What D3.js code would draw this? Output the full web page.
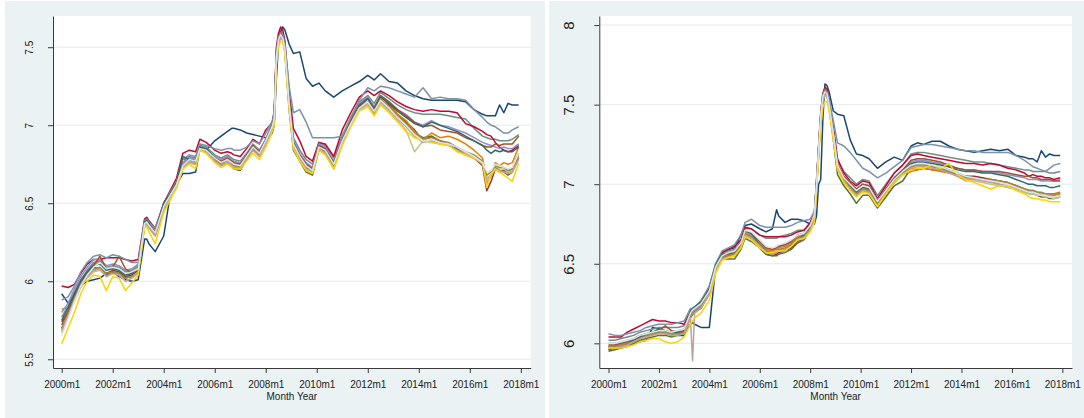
<!DOCTYPE html>
<html><head><meta charset="utf-8">
<script src="https://cdn.jsdelivr.net/npm/d3@7"></script>
<style>html,body{margin:0;padding:0;background:#fff;} svg{display:block;font-family:"Liberation Sans",Arial,sans-serif;}</style>
</head><body><svg id="c" width="1084" height="418"></svg>
<script>
// months since 2000m1
const months = [0,3,6,9,12,15,18,21,24,27,30,33,36,39,40,41,44,48,51,54,57,60,63,65,68,72,75,78,80,81,84,87,90,93,96,98,99,100,101,102,103,104,105,107,109,112,115,118,121,124,128,132,136,140,144,147,150,154,158,162,166,170,174,178,182,186,190,194,198,200,202,204,206,208,210,212,215];
const tickMonths = [0,24,48,72,96,120,144,168,192,216];
const tickLabels = ["2000m1","2002m1","2004m1","2006m1","2008m1","2010m1","2012m1","2014m1","2016m1","2018m1"];
const leftYTicks = [5.5,6,6.5,7,7.5];
const rightYTicks = [6,6.5,7,7.5,8];
const xTitle = "Month Year";
const seriesColors = ["#1a476f","#90353b","#55752f","#e37e00","#6e8e84","#c10534","#938dd2","#cac27e","#a0522d","#7b92a8","#2d6d66","#9c8847","#bfa19c","#ffd200","#d9e6eb"];

// ---- left panel series ----
const L_navy = [5.92,5.86,5.92,5.97,6.00,6.01,6.02,6.05,6.06,6.03,6.01,6.00,6.01, 6.27,6.27,6.24, 6.19,6.29,6.55,6.62,6.69,6.69,6.70,6.85,6.84,6.90,6.93,6.96,6.98,6.98,6.97,6.95,6.94,6.93,6.92, 6.93,6.95,7.00,7.30,7.52,7.60,7.63,7.61,7.52,7.46, 7.47,7.30,7.25,7.27,7.22,7.18,7.22,7.25,7.28,7.32,7.29,7.33,7.28,7.27,7.22,7.19,7.17,7.16,7.16,7.16,7.16,7.15,7.10,7.07, 7.06,7.06,7.06,7.13,7.08,7.14,7.13,7.13];
const L_maroon = [5.74,5.80,5.90,5.99,6.05,6.09,6.08,6.05,6.07,6.06,6.03,6.04,6.07, 6.37,6.38,6.35, 6.30,6.47,6.54,6.60,6.74,6.79,6.77,6.86,6.84,6.78,6.75,6.78,6.76,6.75,6.74,6.80,6.86,6.82,6.91, 6.97,7.00,7.08,7.48,7.56,7.60,7.58,7.50,7.14,6.86, 6.80,6.73,6.70,6.86,6.83,6.74,6.90,7.03,7.13,7.17,7.10,7.19,7.13,7.07,7.02,6.97,6.90,6.93,6.90,6.88,6.85,6.82,6.79,6.74, 6.58,6.64,6.72,6.70,6.71,6.70,6.72,6.82];
const L_forest = [5.70,5.78,5.88,5.97,6.03,6.07,6.08,6.04,6.06,6.05,6.02,6.03,6.06, 6.36,6.37,6.35, 6.30,6.50,6.56,6.64,6.79,6.76,6.75,6.85,6.83,6.77,6.74,6.76,6.73,6.72,6.71,6.78,6.85,6.81,6.88, 6.94,6.98,7.02,7.42,7.53,7.56,7.55,7.47,7.10,6.84, 6.77,6.70,6.68,6.84,6.82,6.73,6.88,7.00,7.11,7.15,7.07,7.16,7.12,7.06,7.02,6.95,6.92,6.93,6.89,6.88,6.85,6.81,6.79,6.75, 6.66,6.68,6.73,6.71,6.70,6.68,6.70,6.79];
const L_orange = [5.82,5.83,5.93,6.01,6.06,6.11,6.12,6.07,6.09,6.08,6.05,6.06,6.09, 6.38,6.39,6.37, 6.32,6.47,6.55,6.62,6.75,6.78,6.78,6.86,6.84,6.79,6.76,6.79,6.77,6.76,6.75,6.80,6.86,6.82,6.89, 6.96,6.99,7.05,7.46,7.55,7.58,7.57,7.50,7.16,6.89, 6.81,6.75,6.72,6.87,6.85,6.76,6.91,7.03,7.13,7.17,7.10,7.18,7.14,7.07,7.03,6.96,6.91,6.95,6.92,6.93,6.91,6.88,6.84,6.79, 6.63,6.68,6.76,6.74,6.76,6.75,6.76,6.86];
const L_teal = [5.77,5.84,5.93,6.01,6.07,6.12,6.13,6.09,6.10,6.09,6.06,6.07,6.10, 6.39,6.40,6.38, 6.33,6.49,6.57,6.63,6.76,6.80,6.79,6.87,6.86,6.81,6.79,6.81,6.79,6.78,6.77,6.82,6.88,6.84,6.91, 6.98,7.01,7.06,7.46,7.56,7.59,7.58,7.51,7.18,6.92, 6.84,6.78,6.75,6.89,6.87,6.79,6.93,7.05,7.15,7.19,7.14,7.21,7.17,7.13,7.10,7.08,7.07,7.07,7.07,7.06,7.05,7.04,6.98,6.93, 6.92,6.91,6.91,6.90,6.90,6.90,6.91,6.94];
const L_cranberry = [5.97,5.96,5.98,6.05,6.11,6.14,6.14,6.15,6.15,6.15,6.14,6.13,6.14, 6.40,6.41,6.39, 6.34,6.50,6.58,6.66,6.82,6.84,6.83,6.91,6.89,6.84,6.82,6.83,6.82,6.81,6.80,6.85,6.91,6.88,6.97, 7.00,7.02,7.09,7.50,7.59,7.63,7.61,7.54,7.22,6.98, 6.90,6.80,6.77,6.89,6.88,6.80,6.97,7.08,7.18,7.22,7.19,7.22,7.19,7.15,7.12,7.10,7.09,7.10,7.09,7.09,7.08,7.01,6.99,6.96, 6.94,6.93,6.89,6.86,6.84,6.83,6.84,6.87];
const L_lavender = [5.80,5.86,5.95,6.03,6.09,6.14,6.14,6.10,6.11,6.10,6.07,6.08,6.11, 6.38,6.39,6.37, 6.32,6.48,6.56,6.62,6.76,6.79,6.78,6.86,6.85,6.80,6.78,6.80,6.78,6.77,6.76,6.81,6.87,6.84,6.91, 6.97,7.00,7.06,7.46,7.56,7.59,7.58,7.51,7.17,6.90, 6.82,6.76,6.73,6.88,6.86,6.77,6.92,7.04,7.14,7.18,7.12,7.19,7.15,7.10,7.07,7.02,7.00,7.03,7.00,6.99,6.97,6.95,6.92,6.89, 6.88,6.87,6.86,6.85,6.86,6.85,6.85,6.88];
const L_khaki = [5.67,5.77,5.87,5.96,6.02,6.06,6.07,6.03,6.05,6.04,6.00,6.02,6.05, 6.36,6.36,6.34, 6.29,6.45,6.53,6.60,6.72,6.76,6.75,6.84,6.82,6.77,6.74,6.76,6.74,6.73,6.72,6.78,6.84,6.80,6.88, 6.94,6.98,7.03,7.42,7.53,7.56,7.55,7.48,7.12,6.86, 6.78,6.72,6.70,6.85,6.82,6.73,6.88,7.00,7.10,7.13,7.07,7.14,7.09,7.03,6.97,6.83,6.90,6.89,6.88,6.88,6.86,6.82,6.80,6.77, 6.66,6.68,6.74,6.72,6.72,6.70,6.71,6.80];
const L_sienna = [5.72,5.81,5.91,6.00,6.06,6.10,6.16,6.08,6.09,6.16,6.08,6.05,6.08, 6.37,6.38,6.36, 6.31,6.48,6.55,6.63,6.74,6.78,6.77,6.86,6.84,6.79,6.77,6.79,6.77,6.76,6.75,6.81,6.87,6.83,6.90, 6.96,6.99,7.05,7.45,7.56,7.59,7.58,7.50,7.16,6.89, 6.81,6.75,6.72,6.87,6.85,6.76,6.91,7.03,7.13,7.17,7.11,7.19,7.15,7.10,7.06,7.02,6.99,7.00,6.97,6.96,6.95,6.92,6.90,6.87, 6.86,6.86,6.88,6.87,6.88,6.88,6.88,6.93];
const L_emidblue = [5.88,5.90,5.97,6.06,6.12,6.16,6.17,6.15,6.17,6.16,6.14,6.12,6.12, 6.39,6.40,6.38, 6.34,6.49,6.57,6.64,6.78,6.81,6.80,6.88,6.87,6.85,6.84,6.85,6.85,6.84,6.84,6.86,6.90,6.88,6.95, 7.00,7.02,7.08,7.47,7.56,7.59,7.58,7.52,7.25,7.08, 7.10,7.02,6.92,6.92,6.92,6.92,6.93,7.05,7.16,7.24,7.22,7.25,7.24,7.22,7.20,7.18,7.24,7.17,7.18,7.17,7.17,7.16,7.10,7.05, 7.02,7.00,6.99,6.97,6.95,6.95,6.97,6.99];
const L_emerald = [5.75,5.83,5.92,6.00,6.06,6.10,6.11,6.07,6.08,6.07,6.04,6.05,6.08, 6.38,6.39,6.37, 6.31,6.50,6.56,6.63,6.80,6.78,6.77,6.86,6.85,6.79,6.76,6.78,6.76,6.75,6.74,6.80,6.86,6.82,6.90, 6.96,6.99,7.05,7.44,7.55,7.58,7.57,7.49,7.14,6.88, 6.79,6.73,6.70,6.86,6.84,6.75,6.90,7.02,7.12,7.17,7.10,7.18,7.14,7.09,7.05,7.01,6.99,7.02,7.00,6.98,6.96,6.93,6.90,6.87, 6.84,6.82,6.84,6.83,6.84,6.83,6.83,6.86];
const L_brown = [5.69,5.79,5.89,5.98,6.04,6.08,6.09,6.05,6.06,6.05,6.02,6.03,6.06, 6.37,6.37,6.35, 6.30,6.46,6.54,6.61,6.73,6.77,6.76,6.85,6.83,6.78,6.75,6.77,6.75,6.74,6.73,6.79,6.85,6.81,6.89, 6.95,6.98,7.04,7.43,7.54,7.57,7.56,7.49,7.13,6.87, 6.79,6.73,6.70,6.85,6.83,6.74,6.89,7.01,7.11,7.15,7.08,7.17,7.12,7.06,7.01,6.95,6.91,6.92,6.90,6.89,6.86,6.83,6.81,6.77, 6.68,6.70,6.74,6.73,6.73,6.71,6.72,6.80];
const L_erose = [5.68,5.78,5.88,5.97,6.03,6.07,6.08,6.03,6.05,6.04,6.00,6.02,6.06, 6.36,6.37,6.35, 6.29,6.46,6.54,6.60,6.73,6.77,6.75,6.85,6.83,6.77,6.74,6.77,6.74,6.73,6.72,6.78,6.84,6.80,6.88, 6.94,6.98,7.03,7.42,7.53,7.56,7.55,7.48,7.12,6.86, 6.78,6.72,6.70,6.85,6.82,6.72,6.88,7.00,7.10,7.14,7.07,7.15,7.10,7.04,6.99,6.93,6.89,6.90,6.88,6.87,6.84,6.81,6.79,6.75, 6.64,6.67,6.72,6.71,6.70,6.69,6.70,6.78];
const L_gold = [5.60,5.70,5.80,5.92,6.00,6.04,6.03,5.94,6.03,6.02,5.94,5.99,6.04, 6.34,6.35,6.32, 6.24,6.44,6.52,6.60,6.72,6.75,6.72,6.84,6.82,6.76,6.73,6.75,6.73,6.72,6.72,6.77,6.82,6.78,6.86, 6.92,6.96,7.00,7.38,7.50,7.54,7.53,7.46,7.10,6.85, 6.77,6.71,6.69,6.84,6.81,6.72,6.87,6.99,7.09,7.12,7.06,7.13,7.08,7.02,6.96,6.92,6.90,6.89,6.88,6.87,6.83,6.81,6.79,6.76, 6.60,6.69,6.72,6.70,6.68,6.66,6.64,6.76];
const L_bluish = [5.65,5.76,5.87,5.97,6.04,6.09,6.12,6.08,6.09,6.08,6.05,6.06,6.08, 6.37,6.38,6.36, 6.31,6.48,6.55,6.62,6.74,6.78,6.77,6.85,6.84,6.79,6.76,6.78,6.76,6.75,6.74,6.80,6.86,6.82,6.90, 6.96,6.99,7.04,7.44,7.55,7.58,7.56,7.49,7.14,6.88, 6.80,6.74,6.71,6.86,6.84,6.75,6.90,7.01,7.11,7.15,7.09,7.16,7.11,7.05,7.00,6.94,6.90,6.91,6.89,6.88,6.86,6.83,6.80,6.76, 6.70,6.71,6.75,6.74,6.73,6.72,6.73,6.82];

// ---- right panel series ----
const R_navy = [5.97,5.97,5.97,5.99,6.00,6.01,6.02,6.10,6.09,6.08,6.06,6.05,6.05, 6.12,6.13,6.12, 6.10,6.10,6.48,6.57,6.59,6.60,6.68,6.74,6.75,6.72,6.70,6.72,6.84,6.80,6.76,6.78,6.78,6.77,6.75, 6.75,6.80,7.00,7.03,7.40,7.63,7.62,7.58,7.46,7.44, 7.43,7.28,7.19,7.18,7.16,7.10,7.14,7.17,7.15,7.24,7.26,7.25,7.27,7.27,7.24,7.22,7.21,7.20,7.21,7.22,7.21,7.22,7.18,7.17, 7.16,7.16,7.14,7.21,7.17,7.19,7.18,7.18];
const R_maroon = [5.98,5.98,5.99,6.00,6.02,6.03,6.05,6.06,6.07,6.06,6.05,6.06,6.07, 6.17,6.19,6.20, 6.23,6.32,6.47,6.54,6.55,6.56,6.60,6.68,6.66,6.60,6.56,6.55,6.56,6.57,6.58,6.60,6.64,6.66,6.72, 6.79,6.98,7.20,7.42,7.55,7.59,7.58,7.51,7.33,7.12, 7.03,6.98,6.94,6.97,6.96,6.87,6.94,7.02,7.07,7.12,7.13,7.13,7.12,7.11,7.09,7.07,7.05,7.05,7.04,7.03,7.02,7.01,6.99,6.97, 6.96,6.96,6.95,6.94,6.94,6.93,6.93,6.94];
const R_forest = [5.95,5.96,5.97,5.98,6.00,6.02,6.03,6.04,6.05,6.05,6.04,6.05,6.06, 6.16,6.18,6.20, 6.22,6.31,6.46,6.53,6.53,6.53,6.59,6.66,6.64,6.60,6.56,6.55,6.55,6.56,6.57,6.59,6.63,6.65,6.71, 6.78,6.97,7.18,7.40,7.53,7.57,7.56,7.48,7.28,7.06, 6.99,6.94,6.88,6.93,6.93,6.85,6.92,6.99,7.02,7.10,7.09,7.10,7.09,7.09,7.08,7.06,7.05,7.04,7.03,7.02,7.00,6.98,6.97,6.95, 6.94,6.94,6.93,6.92,6.92,6.91,6.91,6.92];
const R_orange = [5.98,5.98,5.99,6.01,6.02,6.04,6.05,6.06,6.07,6.07,6.06,6.07,6.08, 6.18,6.20,6.21, 6.24,6.33,6.48,6.55,6.56,6.57,6.62,6.70,6.68,6.63,6.59,6.58,6.59,6.60,6.61,6.63,6.67,6.68,6.73, 6.80,7.00,7.22,7.42,7.55,7.59,7.58,7.50,7.30,7.10, 7.01,6.97,6.93,6.96,6.95,6.87,6.94,7.01,7.06,7.08,7.09,7.10,7.09,7.08,7.07,7.06,7.04,7.04,7.03,7.03,7.02,7.01,6.99,6.97, 6.96,6.95,6.94,6.94,6.93,6.93,6.93,6.94];
const R_teal = [6.02,6.02,6.03,6.04,6.05,6.07,6.08,6.09,6.10,6.10,6.10,6.10,6.11, 6.21,6.22,6.23, 6.26,6.35,6.50,6.57,6.58,6.59,6.64,6.72,6.72,6.68,6.66,6.66,6.66,6.67,6.68,6.69,6.71,6.71,6.75, 6.82,7.02,7.23,7.43,7.55,7.58,7.57,7.51,7.34,7.15, 7.08,7.04,7.00,7.03,7.02,6.93,7.00,7.07,7.12,7.19,7.20,7.20,7.19,7.18,7.17,7.16,7.15,7.14,7.14,7.13,7.12,7.11,7.10,7.09, 7.09,7.08,7.08,7.08,7.08,7.07,7.07,7.08];
const R_cranberry = [6.04,6.04,6.04,6.07,6.09,6.11,6.13,6.15,6.14,6.14,6.13,6.13,6.12, 6.20,6.21,6.22, 6.25,6.36,6.49,6.57,6.59,6.61,6.65,6.73,6.72,6.68,6.67,6.67,6.67,6.67,6.67,6.68,6.70,6.71,6.76, 6.82,7.01,7.24,7.45,7.57,7.61,7.60,7.53,7.36,7.16, 7.07,7.02,6.99,7.02,7.01,6.91,6.99,7.07,7.12,7.18,7.19,7.18,7.17,7.16,7.15,7.14,7.13,7.13,7.12,7.13,7.12,7.10,7.09,7.07, 7.05,7.06,7.05,7.05,7.04,7.04,7.03,7.04];
const R_lavender = [6.00,6.00,6.01,6.02,6.03,6.05,6.06,6.07,6.08,6.08,6.07,6.08,6.09, 6.19,6.20,6.21, 6.24,6.32,6.46,6.53,6.55,6.56,6.61,6.69,6.68,6.63,6.60,6.59,6.60,6.61,6.62,6.64,6.68,6.69,6.74, 6.81,7.01,7.22,7.42,7.54,7.58,7.57,7.50,7.32,7.12, 7.05,7.01,6.97,7.00,6.99,6.90,6.97,7.04,7.09,7.14,7.15,7.15,7.14,7.13,7.11,7.10,7.09,7.09,7.08,7.08,7.07,7.06,7.05,7.04, 7.03,7.03,7.03,7.02,7.02,7.02,7.02,7.03];
const R_khaki = [5.97,5.97,5.98,5.99,6.01,6.03,6.04,6.05,6.06,6.06,6.05,6.06,6.07, 6.17,6.19,6.20, 6.23,6.32,6.47,6.54,6.55,6.55,6.61,6.69,6.67,6.62,6.58,6.57,6.58,6.59,6.60,6.62,6.66,6.67,6.72, 6.79,6.99,7.21,7.41,7.53,7.57,7.56,7.49,7.31,7.11, 7.03,6.98,6.95,6.98,6.97,6.88,6.95,7.02,7.06,7.11,7.12,7.12,7.11,7.10,7.08,7.05,7.02,7.02,7.01,7.00,6.99,6.98,6.97,6.95, 6.94,6.94,6.93,6.93,6.92,6.92,6.91,6.92];
const R_sienna = [5.99,5.99,6.00,6.01,6.03,6.05,6.06,6.07,6.08,6.11,6.08,6.07,6.08, 6.19,6.21,6.22, 6.25,6.34,6.48,6.55,6.56,6.57,6.63,6.71,6.69,6.64,6.60,6.59,6.60,6.61,6.62,6.64,6.68,6.69,6.74, 6.81,7.01,7.23,7.43,7.56,7.60,7.59,7.52,7.33,7.13, 7.05,7.01,6.97,7.00,6.99,6.89,6.97,7.04,7.09,7.15,7.16,7.16,7.15,7.14,7.12,7.10,7.09,7.09,7.08,7.08,7.08,7.07,7.06,7.05, 7.05,7.04,7.04,7.03,7.03,7.03,7.02,7.02];
const R_emidblue = [6.06,6.05,6.05,6.06,6.07,6.08,6.10,6.11,6.12,6.12,6.12,6.13,6.14, 6.22,6.21,6.22, 6.27,6.36,6.50,6.58,6.60,6.62,6.68,6.76,6.78,6.74,6.73,6.73,6.73,6.73,6.73,6.74,6.76,6.77,6.78, 6.83,7.03,7.24,7.44,7.56,7.59,7.58,7.53,7.40,7.26, 7.24,7.20,7.15,7.10,7.08,7.04,7.07,7.11,7.15,7.23,7.24,7.25,7.25,7.24,7.23,7.22,7.21,7.21,7.20,7.20,7.20,7.20,7.18,7.15, 7.13,7.11,7.10,7.09,7.08,7.10,7.12,7.13];
const R_emerald = [5.96,5.97,5.98,6.00,6.02,6.04,6.05,6.07,6.09,6.08,6.07,6.07,6.07, 6.20,6.22,6.23, 6.26,6.34,6.49,6.56,6.57,6.58,6.63,6.71,6.69,6.62,6.58,6.56,6.57,6.58,6.59,6.62,6.66,6.68,6.73, 6.80,7.00,7.21,7.42,7.54,7.58,7.57,7.50,7.31,7.11, 7.03,6.99,6.95,6.98,6.97,6.88,6.95,7.03,7.08,7.13,7.14,7.14,7.13,7.12,7.11,7.09,7.08,7.08,7.07,7.07,7.06,7.05,7.03,7.01, 7.00,7.00,6.99,6.99,6.99,6.98,6.98,6.99];
const R_brown = [5.98,5.98,5.99,6.00,6.01,6.03,6.05,6.06,6.07,6.07,6.06,6.06,6.07, 6.17,6.19,6.20, 6.23,6.32,6.47,6.54,6.55,6.56,6.61,6.69,6.67,6.62,6.58,6.57,6.58,6.59,6.60,6.62,6.66,6.67,6.72, 6.79,6.99,7.21,7.41,7.53,7.57,7.56,7.49,7.31,7.11, 7.03,6.98,6.94,6.97,6.96,6.87,6.95,7.02,7.07,7.11,7.12,7.12,7.11,7.10,7.08,7.06,7.04,7.04,7.03,7.03,7.02,7.01,6.99,6.97, 6.96,6.96,6.95,6.95,6.94,6.94,6.94,6.95];
const R_erose = [5.97,5.97,5.98,5.99,6.01,6.03,6.04,6.05,6.06,6.06,6.05,6.05,6.06, 6.16,5.89,6.19, 6.22,6.31,6.46,6.53,6.54,6.55,6.60,6.68,6.66,6.61,6.57,6.56,6.57,6.58,6.59,6.61,6.65,6.66,6.71, 6.78,6.98,7.20,7.40,7.52,7.56,7.55,7.48,7.30,7.10, 7.02,6.97,6.93,6.96,6.95,6.86,6.94,7.01,7.06,7.10,7.11,7.11,7.10,7.09,7.07,7.05,7.03,7.03,7.02,7.01,7.00,6.99,6.98,6.96, 6.95,6.95,6.94,6.94,6.93,6.93,6.92,6.93];
const R_gold = [5.97,5.97,5.97,5.98,5.99,6.01,6.02,6.03,6.03,6.01,6.00,6.01,6.04, 6.12,6.14,6.16, 6.19,6.27,6.44,6.52,6.54,6.55,6.60,6.67,6.65,6.60,6.57,6.57,6.58,6.58,6.58,6.61,6.65,6.66,6.70, 6.76,6.95,7.16,7.36,7.48,7.52,7.52,7.46,7.28,7.09, 7.01,6.96,6.92,6.95,6.94,6.86,6.94,7.01,7.06,7.09,7.10,7.10,7.12,7.10,7.13,7.06,7.03,7.01,6.99,6.97,6.99,6.99,6.96,6.94, 6.92,6.91,6.91,6.90,6.90,6.89,6.89,6.89];
const R_bluish = [6.00,6.00,6.01,6.02,6.03,6.05,6.06,6.07,6.08,6.08,6.07,6.08,6.09, 6.19,6.21,6.22, 6.25,6.33,6.48,6.55,6.57,6.58,6.63,6.71,6.70,6.65,6.61,6.60,6.61,6.62,6.63,6.65,6.68,6.69,6.74, 6.81,7.00,7.22,7.43,7.55,7.58,7.57,7.50,7.32,7.12, 7.04,7.00,6.96,6.99,6.98,6.89,6.96,7.03,7.08,7.12,7.13,7.13,7.12,7.11,7.09,7.07,7.05,7.04,7.03,7.02,7.01,7.00,6.98,6.96, 6.95,6.95,6.94,6.93,6.93,6.92,6.92,6.93];

const leftSeries = [L_navy,L_maroon,L_forest,L_orange,L_teal,L_cranberry,L_lavender,L_khaki,L_sienna,L_emidblue,L_emerald,L_brown,L_erose,L_gold,L_bluish];
const rightSeries = [R_navy,R_maroon,R_forest,R_orange,R_teal,R_cranberry,R_lavender,R_khaki,R_sienna,R_emidblue,R_emerald,R_brown,R_erose,R_gold,R_bluish];

leftSeries.concat(rightSeries).forEach((s,i)=>{ if(s.length!==months.length) throw new Error("series "+i+" has "+s.length+" values, expected "+months.length); });

const svg = d3.select("#c");
const panels = [
  {series:leftSeries, yTicks:leftYTicks, bg:[5,1,540,417], plot:[53,530.7,16,368], xDom:[-4.09,220.65], yDom:[5.444,7.70], yFont:10, yLabX:29.5},
  {series:rightSeries, yTicks:rightYTicks, bg:[549,1,535,417], plot:[599.3,1072,16,368], xDom:[-4.38,220.6], yDom:[5.845,8.057], yFont:15, yLabX:568.5}
];

panels.forEach(p=>{
  const [x0,x1,y0,y1] = p.plot;
  svg.append("rect").attr("x",p.bg[0]).attr("y",p.bg[1]).attr("width",p.bg[2]).attr("height",p.bg[3]).attr("fill","#eaf2f3");
  svg.append("rect").attr("x",x0).attr("y",y0).attr("width",x1-x0).attr("height",y1-y0).attr("fill","#fff");
  const x = d3.scaleLinear().domain(p.xDom).range([x0,x1]);
  const y = d3.scaleLinear().domain(p.yDom).range([y1,y0]);
  // gridlines
  svg.append("g").selectAll("line").data(p.yTicks).join("line")
    .attr("x1",x0).attr("x2",x1).attr("y1",d=>y(d)).attr("y2",d=>y(d))
    .attr("stroke","#e2ebee").attr("stroke-width",1);
  // lines
  const line = d3.line().x((d,i)=>x(months[i])).y(d=>y(d));
  svg.append("g").selectAll("path").data(p.series).join("path")
    .attr("d",line).attr("fill","none")
    .attr("stroke",(d,i)=>seriesColors[i%seriesColors.length])
    .attr("stroke-width",1.5).attr("stroke-linejoin","round");
  // x axis
  const gx = svg.append("g").attr("transform",`translate(0,${y1})`)
    .call(d3.axisBottom(x).tickValues(tickMonths).tickFormat((d,i)=>tickLabels[i]).tickSize(5).tickSizeOuter(0));
  gx.select(".domain").attr("stroke","#3a3a3a");
  gx.selectAll(".tick line").attr("stroke","#3a3a3a");
  gx.selectAll(".tick text").attr("y",13).attr("dy","0.71em").attr("font-size",10).attr("fill","#222")
    .attr("font-family","Liberation Sans, Arial, sans-serif");
  // y axis
  const gy = svg.append("g").attr("transform",`translate(${x0},0)`)
    .call(d3.axisLeft(y).tickValues(p.yTicks).tickFormat(d3.format("")).tickSize(5).tickSizeOuter(0));
  gy.select(".domain").attr("stroke","#3a3a3a");
  gy.selectAll(".tick line").attr("stroke","#3a3a3a");
  gy.selectAll(".tick text").attr("x",null).attr("dy",null)
    .attr("transform",`translate(${p.yLabX-x0},0) rotate(-90)`)
    .attr("text-anchor","middle").attr("dominant-baseline","central")
    .attr("font-size",p.yFont).attr("fill","#222")
    .attr("font-family","Liberation Sans, Arial, sans-serif");
  // x title
  svg.append("text").attr("x",(x0+x1)/2).attr("y",400).attr("text-anchor","middle")
    .attr("font-size",10).attr("fill","#222").text(xTitle);
});
</script></body></html>
